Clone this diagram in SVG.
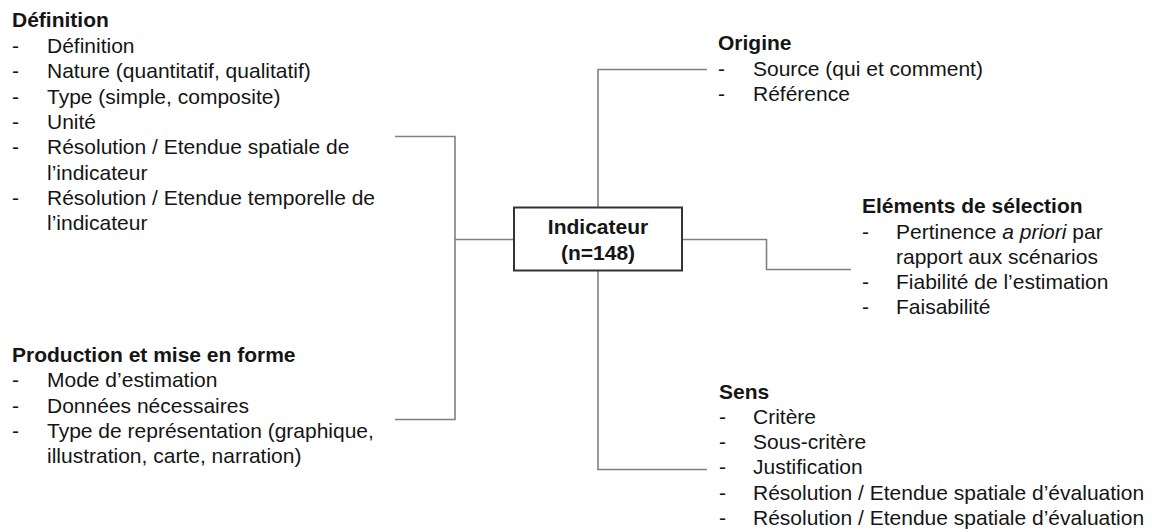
<svg xmlns="http://www.w3.org/2000/svg" width="1152" height="532" viewBox="0 0 1152 532">
<style>
text{font-family:"Liberation Sans",Arial,sans-serif;font-size:21px;fill:#151515}
.t{font-weight:bold}
.c{stroke:#808080;stroke-width:1.6;fill:none}
.box{fill:#fff;stroke:#333;stroke-width:2}
</style>
<rect width="1152" height="532" fill="#fff"/>
<g id="connectors">
<polyline class="c" points="395,136.5 455,136.5 455,419.5 395,419.5"/>
<line class="c" x1="455" y1="239.5" x2="514" y2="239.5"/>
<polyline class="c" points="598,207 598,69.5 707,69.5"/>
<polyline class="c" points="682,239.5 766.5,239.5 766.5,269.5 851,269.5"/>
<polyline class="c" points="598,271 598,469.5 707,469.5"/>
</g>
<g id="indicateur">
<rect class="box" x="514" y="207.5" width="168" height="63"/>
<text class="t" x="598" y="234" text-anchor="middle">Indicateur</text>
<text class="t" x="598" y="259.5" text-anchor="middle">(n=148)</text>
</g>
<g id="definition">
<text class="t" x="12" y="27">Définition</text>
<text x="12" y="53">-</text><text x="47" y="53">Définition</text>
<text x="12" y="78.3">-</text><text x="47" y="78.3">Nature (quantitatif, qualitatif)</text>
<text x="12" y="103.6">-</text><text x="47" y="103.6">Type (simple, composite)</text>
<text x="12" y="128.9">-</text><text x="47" y="128.9">Unité</text>
<text x="12" y="154.2">-</text><text x="47" y="154.2">Résolution / Etendue spatiale de</text>
<text x="47" y="179.5">l’indicateur</text>
<text x="12" y="204.8">-</text><text x="47" y="204.8">Résolution / Etendue temporelle de</text>
<text x="47" y="230.1">l’indicateur</text>
</g>
<g id="production">
<text class="t" x="12" y="362">Production et mise en forme</text>
<text x="12" y="387.3">-</text><text x="47" y="387.3">Mode d’estimation</text>
<text x="12" y="412.6">-</text><text x="47" y="412.6">Données nécessaires</text>
<text x="12" y="437.9">-</text><text x="47" y="437.9">Type de représentation (graphique,</text>
<text x="47" y="463.2">illustration, carte, narration)</text>
</g>
<g id="origine">
<text class="t" x="718" y="50">Origine</text>
<text x="718" y="76">-</text><text x="753" y="76">Source (qui et comment)</text>
<text x="718" y="101">-</text><text x="753" y="101">Référence</text>
</g>
<g id="selection">
<text class="t" x="862" y="213">Eléments de sélection</text>
<text x="862" y="238.5">-</text><text x="896" y="238.5">Pertinence <tspan font-style="italic">a priori</tspan> par</text>
<text x="896" y="263.8">rapport aux scénarios</text>
<text x="862" y="289">-</text><text x="896" y="289">Fiabilité de l’estimation</text>
<text x="862" y="314.2">-</text><text x="896" y="314.2">Faisabilité</text>
</g>
<g id="sens">
<text class="t" x="719" y="398.5">Sens</text>
<text x="719" y="423.7">-</text><text x="753" y="423.7">Critère</text>
<text x="719" y="449">-</text><text x="753" y="449">Sous-critère</text>
<text x="719" y="474.3">-</text><text x="753" y="474.3">Justification</text>
<text x="719" y="499.6">-</text><text x="753" y="499.6">Résolution / Etendue spatiale d’évaluation</text>
<text x="719" y="524.9">-</text><text x="753" y="524.9">Résolution / Etendue spatiale d’évaluation</text>
</g>
</svg>
